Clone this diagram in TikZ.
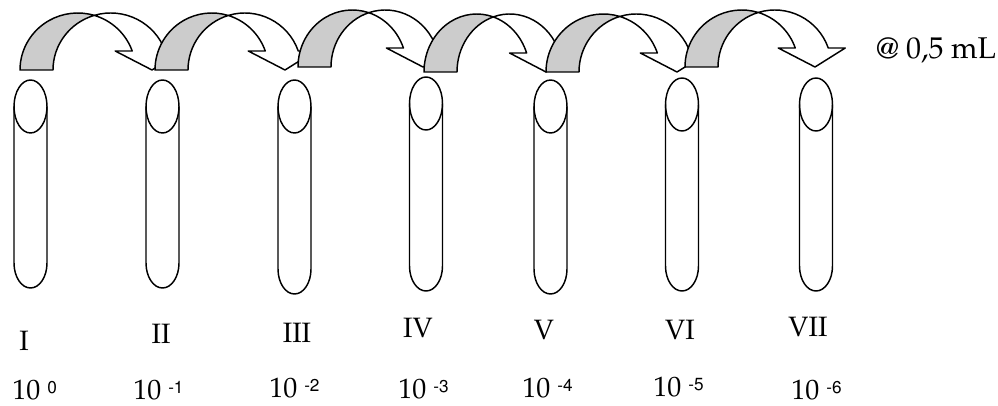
\documentclass[tikz,border=0pt]{standalone}
\usepackage[T1]{fontenc}
\newcommand\palfont{\fontfamily{ppl}\fontsize{21}{25}\selectfont}
\newcommand\palbig{\fontfamily{ppl}\fontsize{22.5}{27}\selectfont}
\newcommand\expo[1]{\raisebox{4.5pt}{\fontfamily{phv}\fontsize{12.9}{14}\selectfont #1}}
\newcommand\Tthk{33}
\newcommand\Taw{67}
\newcommand\Tah{19}
\tikzset{
  outline/.style={draw=black, line width=1.1pt, line join=round},
  backband/.style={outline, fill=gray!40},
  frontband/.style={outline, fill=white},
  lbl/.style={inner sep=0pt, font=\palfont},
}
\newcommand\carrow[4]{%
  \pgfmathsetmacro\cW{#2-#1}%
  \pgfmathsetmacro\cH{#4-#3}%
  \pgfmathsetmacro\cR{\cW/2-(\Tthk+\Taw)/4}%
  \pgfmathsetmacro\cPhi{acos(\Tthk/(2*\cR))}%
  \pgfmathsetmacro\cAlp{asin(\Tah/\cH)}%
  \pgfmathsetmacro\cXa{#1+\cR+\cR*cos(\cAlp)}%
  \pgfmathsetmacro\cXb{\cXa+\Tthk}%
  \pgfmathsetmacro\cY{#4-\Tah}%
  \pgfmathsetmacro\cXl{\cXa-(\Taw-\Tthk)/2}%
  \pgfmathsetmacro\cXr{\cXb+(\Taw-\Tthk)/2}%
  \pgfmathsetmacro\cXt{#2-\Taw/2}%
  \pgfmathsetmacro\cIx{#1+\cR+\Tthk/2}%
  \pgfmathsetmacro\cIy{#4-\cH*sin(\cPhi)}%
  \pgfmathsetmacro\angA{360-\cPhi}%
  \pgfmathsetmacro\angB{180+\cPhi}%
  \pgfmathsetmacro\angC{360-\cAlp}%
  \draw[backband] (#1,#4) arc[start angle=180,end angle=\angA,x radius=\cR,y radius=\cH]
     arc[start angle=\angB,end angle=180,x radius=\cR,y radius=\cH] -- cycle;
  \draw[frontband] (\cIx,\cIy) arc[start angle=\angA,end angle=\angC,x radius=\cR,y radius=\cH]
     -- (\cXl,\cY) -- (\cXt,#4) -- (\cXr,\cY) -- (\cXb,\cY)
     arc[start angle=\angC,end angle=\angB,x radius=\cR,y radius=\cH] -- cycle;
}
\newcommand\tube[3]{%
  \draw[outline] (#1-16.5,#2+26.5) -- (#1-16.5,#3-25)
     arc[start angle=180,end angle=0,x radius=16.5,y radius=25] -- (#1+16.5,#2+26.5);
  \draw[outline] (#1,#2+26.5) ellipse[x radius=16.5,y radius=26.5];
}
\begin{document}
\begin{tikzpicture}[x=0.75pt,y=-0.75pt]
\useasboundingbox (0,0) rectangle (998,406);
% arrows
\carrow{20}{185.5}{13}{70}
\carrow{155}{318.5}{13}{70}
\carrow{298}{456.5}{10}{67}
\carrow{424}{579.5}{14}{72}
\carrow{546}{710.5}{14}{72}
\carrow{685}{848.5}{10}{67}
% tubes
\tube{30.5}{80}{288}
\tube{162.5}{80}{288}
\tube{294.5}{80}{294}
\tube{426}{77}{291}
\tube{550.5}{80}{294}
\tube{682}{78}{291}
\tube{816}{78}{291}
% labels
\node[lbl, font=\palbig, anchor=base west] (vol) at (876,59) {@ 0,5 mL};
\node[lbl, anchor=base] (rI) at (24,350) {I};
\node[lbl, anchor=base] (rII) at (161,343) {II};
\node[lbl, anchor=base] (rIII) at (297,342) {III};
\node[lbl, anchor=base] (rIV) at (418,337) {IV};
\node[lbl, anchor=base] (rV) at (544,339) {V};
\node[lbl, anchor=base] (rVI) at (680,339) {VI};
\node[lbl, anchor=base] (rVII) at (808,336) {VII};
\node[lbl, anchor=base west] (d0) at (12,399) {10 \expo{0}};
\node[lbl, anchor=base west] (d1) at (133,399) {10 \expo{-1}};
\node[lbl, anchor=base west] (d2) at (269,397.5) {10 \expo{-2}};
\node[lbl, anchor=base west] (d3) at (398,398.5) {10 \expo{-3}};
\node[lbl, anchor=base west] (d4) at (522,397.5) {10 \expo{-4}};
\node[lbl, anchor=base west] (d5) at (653,396) {10 \expo{-5}};
\node[lbl, anchor=base west] (d6) at (791,399) {10 \expo{-6}};
\end{tikzpicture}
\end{document}
